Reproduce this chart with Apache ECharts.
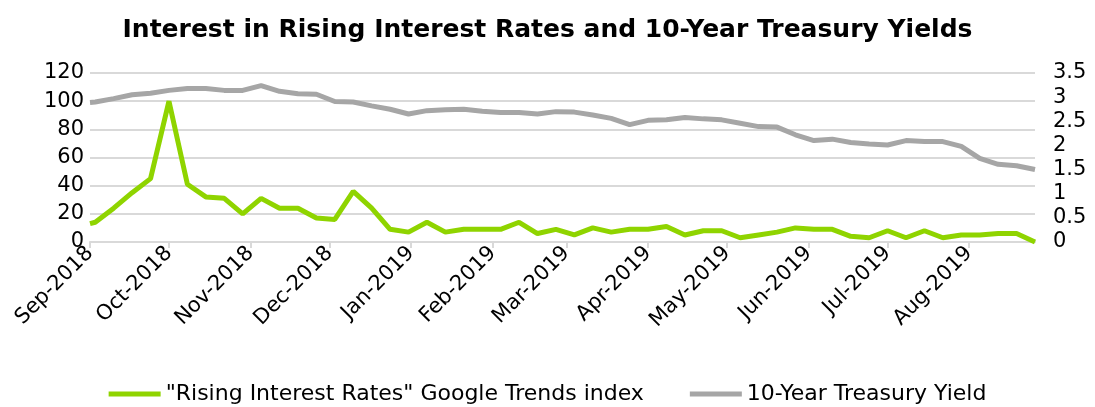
<!DOCTYPE html>
<html>
<head>
<meta charset="utf-8">
<script src="https://cdn.jsdelivr.net/npm/echarts@6/dist/echarts.min.js"></script>
<style>
  html, body { margin: 0; padding: 0; background: #fff; }
</style>
</head>
<body>
<div id="chart" style="width:1095px;height:407px;"></div>
<script>
// weekly points (first one is the 1st of the month)
var weeks = [
    '2018-09-01', '2018-09-03', '2018-09-10', '2018-09-17', '2018-09-24',
    '2018-10-01', '2018-10-08', '2018-10-15', '2018-10-22', '2018-10-29',
    '2018-11-05', '2018-11-12', '2018-11-19', '2018-11-26',
    '2018-12-03', '2018-12-10', '2018-12-17', '2018-12-24', '2018-12-31',
    '2019-01-07', '2019-01-14', '2019-01-21', '2019-01-28',
    '2019-02-04', '2019-02-11', '2019-02-18', '2019-02-25',
    '2019-03-04', '2019-03-11', '2019-03-18', '2019-03-25',
    '2019-04-01', '2019-04-08', '2019-04-15', '2019-04-22', '2019-04-29',
    '2019-05-06', '2019-05-13', '2019-05-20', '2019-05-27',
    '2019-06-03', '2019-06-10', '2019-06-17', '2019-06-24',
    '2019-07-01', '2019-07-08', '2019-07-15', '2019-07-22', '2019-07-29',
    '2019-08-05', '2019-08-12', '2019-08-19', '2019-08-26'
];

var trendsIndex = [
    13, 14, 24, 35, 45,
    100, 41, 32, 31, 20,
    31, 24, 24, 17,
    16, 36, 24, 9, 7,
    14, 7, 9, 9,
    9, 14, 6, 9,
    5, 10, 7, 9,
    9, 11, 5, 8, 8,
    3, 5, 7, 10,
    9, 9, 4, 3,
    8, 3, 8, 3, 5,
    5, 6, 6, 0
];

var treasuryYield = [
    2.89, 2.90, 2.97, 3.05, 3.08,
    3.14, 3.18, 3.18, 3.14, 3.14,
    3.24, 3.12, 3.07, 3.06,
    2.91, 2.90, 2.82, 2.75, 2.65,
    2.72, 2.74, 2.75, 2.71,
    2.68, 2.68, 2.65, 2.70,
    2.69, 2.63, 2.56, 2.43,
    2.52, 2.53, 2.58, 2.55, 2.53,
    2.46, 2.39, 2.38, 2.22,
    2.10, 2.13, 2.06, 2.03,
    2.01, 2.10, 2.08, 2.08, 1.98,
    1.73, 1.61, 1.58, 1.50
];

var tickDates = [
    '2018-09-01', '2018-10-01', '2018-11-01', '2018-12-01', '2019-01-01', '2019-02-01',
    '2019-03-01', '2019-04-01', '2019-05-01', '2019-06-01', '2019-07-01', '2019-08-01'
];
var tickLabels = [
    'Sep-2018', 'Oct-2018', 'Nov-2018', 'Dec-2018', 'Jan-2019', 'Feb-2019',
    'Mar-2019', 'Apr-2019', 'May-2019', 'Jun-2019', 'Jul-2019', 'Aug-2019'
];

var leftTicks = ['0', '20', '40', '60', '80', '100', '120'];
var rightTicks = ['0', '0.5', '1', '1.5', '2', '2.5', '3', '3.5'];

function toTime(s) {
    var p = s.split('-');
    return Date.UTC(+p[0], +p[1] - 1, +p[2]);
}

var tickTimes = tickDates.map(toTime);
var FONT = '"DejaVu Sans", "Open Sans", sans-serif';

var myChart = echarts.init(document.getElementById('chart'));
var option = {
    animation: false,
    backgroundColor: '#ffffff',
    textStyle: { fontFamily: FONT, color: '#000' },
    title: {
        text: 'Interest in Rising Interest Rates and 10-Year Treasury Yields',
        left: 'center',
        top: 13,
        textStyle: { fontFamily: FONT, fontSize: 25, fontWeight: 'bold', color: '#000' }
    },
    legend: {
        top: 378,
        left: 'center',
        icon: 'rect',
        itemWidth: 52,
        itemHeight: 5,
        itemGap: 46,
        textStyle: { fontFamily: FONT, fontSize: 22, color: '#000' },
        data: ['"Rising Interest Rates" Google Trends index', '10-Year Treasury Yield']
    },
    grid: {
        left: 90,
        right: 60,
        top: 73,
        bottom: 165
    },
    xAxis: {
        type: 'value',
        min: toTime(weeks[0]),
        max: toTime(weeks[weeks.length - 1]),
        splitLine: { show: false },
        axisLine: { show: true, lineStyle: { color: '#d9d9d9', width: 2 } },
        axisTick: {
            show: true,
            length: 6,
            customValues: tickTimes,
            lineStyle: { color: '#d9d9d9', width: 2 }
        },
        axisLabel: {
            rotate: 45,
            margin: 8,
            fontSize: 21,
            color: '#000',
            fontFamily: FONT,
            customValues: tickTimes,
            formatter: function (v) {
                var i = tickTimes.indexOf(v);
                return i >= 0 ? tickLabels[i] : '';
            }
        }
    },
    yAxis: [{
        type: 'value',
        min: 0,
        max: 120,
        interval: 20,
        axisLine: { show: false },
        axisTick: { show: false },
        splitLine: { lineStyle: { color: '#d9d9d9', width: 2 } },
        axisLabel: {
            fontSize: 21,
            color: '#000',
            fontFamily: FONT,
            margin: 6,
            formatter: function (v) { return leftTicks[Math.round(v / 20)]; }
        }
    }, {
        type: 'value',
        min: 0,
        max: 3.5,
        interval: 0.5,
        axisLine: { show: false },
        axisTick: { show: false },
        splitLine: { show: false },
        axisLabel: {
            fontSize: 21,
            color: '#000',
            fontFamily: FONT,
            margin: 18,
            formatter: function (v) { return rightTicks[Math.round(v / 0.5)]; }
        }
    }],
    series: [{
        name: '"Rising Interest Rates" Google Trends index',
        type: 'line',
        yAxisIndex: 0,
        symbol: 'none',
        itemStyle: { color: '#8fd400' },
        lineStyle: { color: '#8fd400', width: 5 },
        data: weeks.map(function (d, i) { return [toTime(d), trendsIndex[i]]; })
    }, {
        name: '10-Year Treasury Yield',
        type: 'line',
        yAxisIndex: 1,
        symbol: 'none',
        itemStyle: { color: '#a6a6a6' },
        lineStyle: { color: '#a6a6a6', width: 5 },
        data: weeks.map(function (d, i) { return [toTime(d), treasuryYield[i]]; })
    }]
};

option && myChart.setOption(option);
</script>
</body>
</html>
